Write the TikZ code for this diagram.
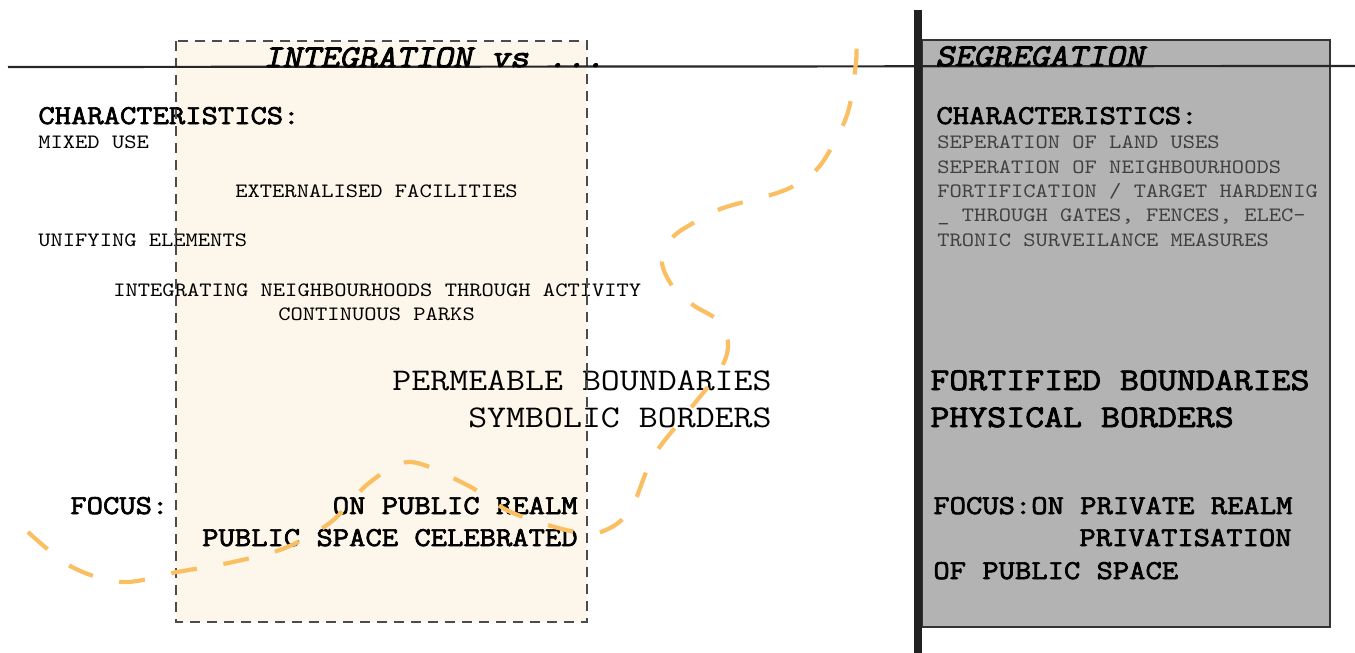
\documentclass[tikz,border=0pt]{standalone}
\usepackage{fontspec}
\newfontfamily\typefont{Latin Modern Mono}[FakeStretch=1.146]
\newfontfamily\typelargefont{Latin Modern Mono}[FakeStretch=1.165]
\newfontfamily\typeboldfont{Latin Modern Mono}[FakeStretch=1.165, FakeBold=2.6]
\newfontfamily\typetitlefont{Latin Modern Mono}[FakeStretch=1.165, FakeBold=3, FakeSlant=0.22]
\usepackage{tikz}
\definecolor{cream}{HTML}{FDF6EA}
\definecolor{boxgrey}{HTML}{B3B3B3}
\definecolor{pathorange}{HTML}{FBBF63}
\tikzset{
    x=0.5pt, y=-0.5pt, % one unit is one pixel of the sheet, y runs down
    }

\begin{document}
\begin{tikzpicture}[
smalltext/.style={anchor=base west, inner sep=0pt, font=\typefont\fontsize{10.2}{12}\selectfont},
headtext/.style={anchor=base west, inner sep=0pt, font=\typeboldfont\fontsize{13.6}{16}\selectfont},
bigtext/.style={anchor=base west, inner sep=0pt, font=\typelargefont\fontsize{15.8}{19}\selectfont},
bigbold/.style={anchor=base west, inner sep=0pt, font=\typeboldfont\fontsize{15.8}{19}\selectfont},
titletext/.style={anchor=base west, inner sep=0pt, font=\typetitlefont\fontsize{15.8}{19}\selectfont},
]
\useasboundingbox (0,0) rectangle (1355,653);

% integration side
\fill[cream] (176,41) rectangle (587,622);
\node[headtext] (charleft) at (38,124) {CHARACTERISTICS:};
\node[smalltext] (mixed) at (38,148) {MIXED USE};
\node[smalltext] (external) at (235,197) {EXTERNALISED FACILITIES};
\node[smalltext] (unifying) at (38,246) {UNIFYING ELEMENTS};
\node[smalltext] (activity) at (113,296) {INTEGRATING NEIGHBOURHOODS THROUGH ACTIVITY};
\node[smalltext] (parks) at (278,320) {CONTINUOUS PARKS};
\node[bigtext, anchor=base east] (permeable) at (772,390) {PERMEABLE BOUNDARIES};
\node[bigtext, anchor=base east] (symbolic) at (772,427) {SYMBOLIC BORDERS};
\node[headtext] (focusleft) at (70,514) {FOCUS:};
\node[headtext, anchor=base east] (publicrealm) at (578,514) {ON PUBLIC REALM};
\node[headtext, anchor=base east] (celebrated) at (578,546) {PUBLIC SPACE CELEBRATED};
\draw[black!70, line width=0.6pt, dash pattern=on 5pt off 3.5pt] (176,41) rectangle (587,622);

% segregation side
\draw[fill=boxgrey, draw=black!80, line width=1pt] (922,40) rectangle (1330,627);
\node[headtext] (charright) at (936,124) {CHARACTERISTICS:};
\node[smalltext, text=black!75] (landuses) at (937,148) {SEPERATION OF LAND USES};
\node[smalltext, text=black!75] (neighbours) at (937,173) {SEPERATION OF NEIGHBOURHOODS};
\node[smalltext, text=black!75] (fortify) at (937,197) {FORTIFICATION / TARGET HARDENIG};
\node[smalltext, text=black!75] (gates) at (937,221) {\_ THROUGH GATES, FENCES, ELEC-};
\node[smalltext, text=black!75] (surveil) at (937,246) {TRONIC SURVEILANCE MEASURES};
\node[bigbold] (fortified) at (930,390) {FORTIFIED BOUNDARIES};
\node[bigbold] (physical) at (930,427) {PHYSICAL BORDERS};
\node[headtext] (focusright) at (933,514) {FOCUS:ON PRIVATE REALM};
\node[headtext, anchor=base east] (privatisation) at (1292,546) {PRIVATISATION};
\node[headtext] (publicspace) at (933,579) {OF PUBLIC SPACE};

% titles on the rule
\draw[black!85, line width=1.1pt] (8,67) -- (1355,66);
\node[titletext] (integration) at (263,67) {INTEGRATION vs ...};
\node[titletext] (segregation) at (935,66) {SEGREGATION};
\fill[black!87] (914,10) rectangle (922,653);

% the wandering border
\draw[pathorange, line width=2.1pt, dash pattern=on 13pt off 13.5pt]
  plot[smooth, tension=0.55] coordinates {(28,532) (72,567) (123,582) (177,572)
  (233,562) (285,548) (331,522) (369,483) (410,462) (467,485) (513,513)
  (580,533) (610,528) (632,507) (653,457) (687,413) (720,370) (728,343)
  (717,320) (693,305) (673,287) (662,262) (672,238) (695,222) (723,208)
  (777,193) (800,182) (822,163) (847,115) (856,62) (856,35)};
\end{tikzpicture}
\end{document}
